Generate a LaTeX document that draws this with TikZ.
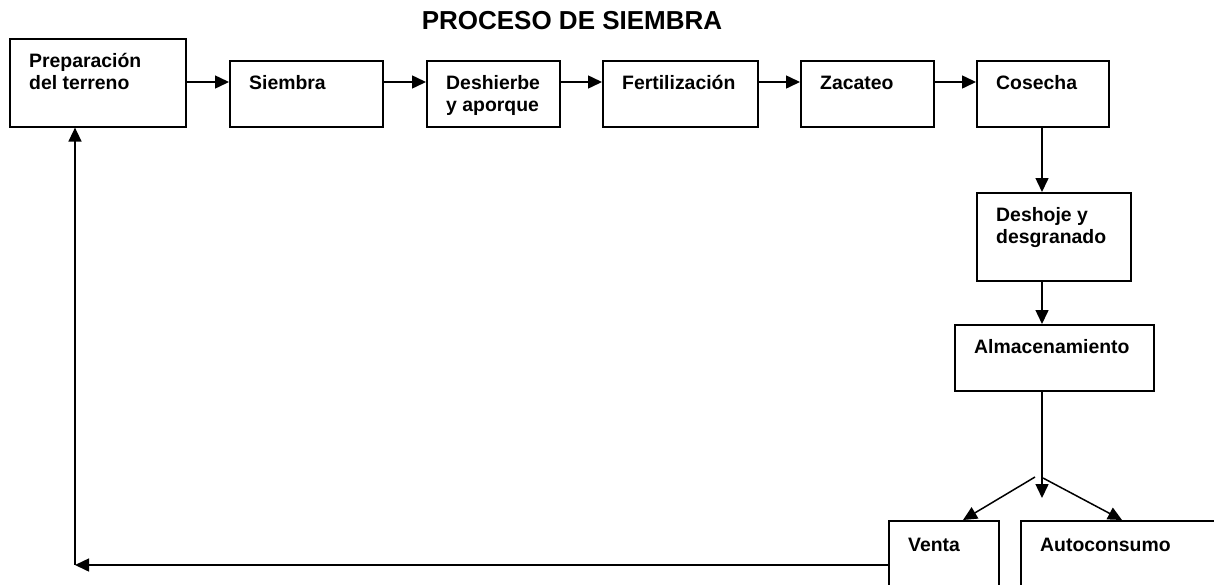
\documentclass[tikz,border=0pt]{standalone}
\usepackage{fontspec}
\setmainfont{Liberation Sans}
\usetikzlibrary{arrows.meta}
\begin{document}
\begin{tikzpicture}[x=1pt,y=-1pt,
  box/.style={draw,line width=1.6pt,rectangle,inner sep=0pt,anchor=north west},
  txt/.style={anchor=base west,inner sep=0pt,font=\bfseries\fontsize{19.4}{22}\selectfont,align=left},
  arr/.style={line width=1.5pt,-{Triangle[length=14pt,width=13pt]}},
  ln/.style={line width=1.5pt}]
\clip (0,0) rectangle (1214,584);
\useasboundingbox (0,0) rectangle (1214,584);
\node[anchor=base,inner sep=0pt,font=\bfseries\fontsize{26}{30}\selectfont] (title) at (572,29) {PROCESO DE SIEMBRA};
\node[box,minimum width=176pt,minimum height=88pt] (b1) at (9,38) {};
\node[box,minimum width=153pt,minimum height=66pt] (b2) at (229,60) {};
\node[box,minimum width=133pt,minimum height=66pt] (b3) at (426,60) {};
\node[box,minimum width=155pt,minimum height=66pt] (b4) at (602,60) {};
\node[box,minimum width=133pt,minimum height=66pt] (b5) at (800,60) {};
\node[box,minimum width=132pt,minimum height=66pt] (b6) at (976,60) {};
\node[box,minimum width=154pt,minimum height=88pt] (b7) at (976,192) {};
\node[box,minimum width=199pt,minimum height=66pt] (b8) at (954,324) {};
\node[box,minimum width=110pt,minimum height=90pt] (b9) at (888,520) {};
\node[box,minimum width=220pt,minimum height=90pt] (b10) at (1020,520) {};
\node[txt] (t1) at (29,89) {Preparación\\del terreno};
\node[txt] (t2) at (249,89) {Siembra};
\node[txt] (t3) at (446,111) {Deshierbe\\y aporque};
\node[txt] (t4) at (622,89) {Fertilización};
\node[txt] (t5) at (820,89) {Zacateo};
\node[txt] (t6) at (996,89) {Cosecha};
\node[txt] (t7) at (996,243) {Deshoje y\\desgranado};
\node[txt] (t8) at (974,353) {Almacenamiento};
\node[txt] (t9) at (908,551) {Venta};
\node[txt] (t10) at (1040,551) {Autoconsumo};
\draw[arr] (b1.east |- 0,82) -- (b2.west |- 0,82);
\draw[arr] (b2.east |- 0,82) -- (b3.west |- 0,82);
\draw[arr] (b3.east |- 0,82) -- (b4.west |- 0,82);
\draw[arr] (b4.east |- 0,82) -- (b5.west |- 0,82);
\draw[arr] (b5.east |- 0,82) -- (b6.west |- 0,82);
\draw[arr] (b6.south -| 1042,0) -- (b7.north -| 1042,0);
\draw[arr] (b7.south -| 1042,0) -- (b8.north -| 1042,0);
\coordinate (split) at (1042,498);
\draw[arr] (b8.south -| 1042,0) -- (split);
\coordinate (sl) at (1035,477);
\coordinate (sr) at (1043,478);
\draw[arr] (sl) -- (963,520);
\draw[arr] (sr) -- (1122,520);
\coordinate (corner) at (75,565);
\draw[arr] (b9.west |- corner) -- (corner);
\draw[arr] (corner) -- (corner |- b1.south);
\end{tikzpicture}
\end{document}
